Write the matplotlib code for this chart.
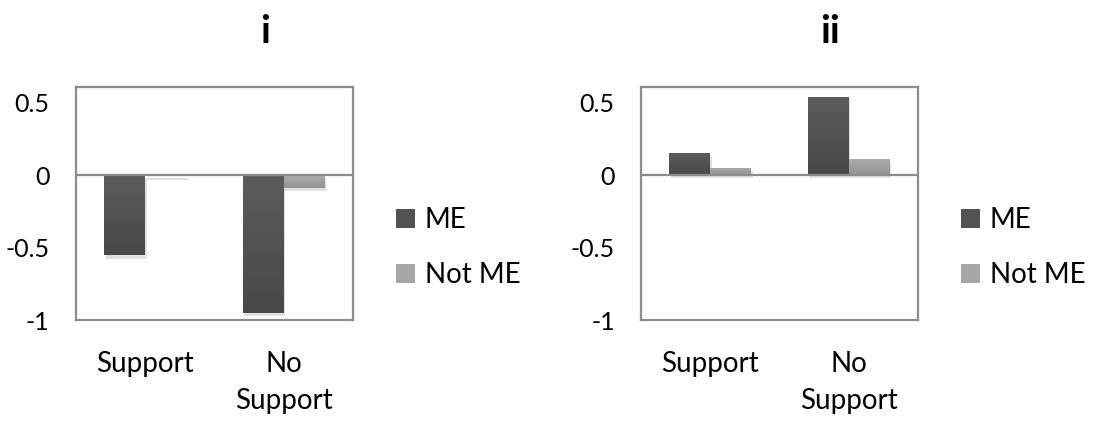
import matplotlib.pyplot as plt
import matplotlib.patheffects as pe
from matplotlib.patches import Patch
from matplotlib.colors import LinearSegmentedColormap
import numpy as np

plt.rcParams['font.family'] = ['Lato', 'DejaVu Sans']

categories = ["Support", "No\nSupport"]
series = ["ME", "Not ME"]
panel_i_me = [-0.555, -0.95]
panel_i_not_me = [-0.008, -0.088]
panel_ii_me = [0.155, 0.54]
panel_ii_not_me = [0.05, 0.11]
titles = ["i", "ii"]
yticks = [-1, -0.5, 0, 0.5]

colores = {"ME": "#525252", "Not ME": "#a6a6a6"}
degradado = {"ME": ("#484848", "#5c5c5c"), "Not ME": ("#939393", "#acacac")}
gris = "#8c8c8c"


def rellenar(ax, barras, serie):
    # degradado vertical, mas claro arriba
    cmap = LinearSegmentedColormap.from_list(serie, degradado[serie])
    grad = np.linspace(0, 1, 64).reshape(-1, 1)
    for b in barras:
        x0, y0 = b.get_x(), b.get_y()
        x1, y1 = x0 + b.get_width(), y0 + b.get_height()
        lo, hi = min(y0, y1), max(y0, y1)
        im = ax.imshow(grad, cmap=cmap, extent=[x0, x1, lo, hi], origin='lower',
                       aspect='auto', zorder=2.5, interpolation='bilinear')
        im.set_clip_path(b)


def panel(fig, rect, me, not_me, titulo, titulo_x):
    ax = fig.add_axes(rect)
    x = np.arange(len(categories))
    w = 0.296
    sombra = [pe.SimplePatchShadow(offset=(1, -2.5), shadow_rgbFace='#888888', alpha=0.25), pe.Normal()]
    b1 = ax.bar(x - w / 2, me, w, color=colores["ME"], zorder=2)
    b2 = ax.bar(x + w / 2, not_me, w, color=colores["Not ME"], zorder=2)
    for b in list(b1) + list(b2):
        b.set_path_effects(sombra)
    rellenar(ax, b1, "ME")
    rellenar(ax, b2, "Not ME")
    ax.axhline(0, color=gris, lw=1.6, zorder=3)
    ax.set_xlim(-0.5, 1.5)
    ax.set_ylim(-1, 0.607)
    ax.set_yticks(yticks)
    ax.set_yticklabels(["-1", "-0.5", "0", "0.5"])
    ax.set_xticks(x)
    ax.set_xticklabels(categories, linespacing=1.55, va='top')
    ax.tick_params(axis='y', length=0, pad=19, labelsize=18)
    ax.tick_params(axis='x', length=0, pad=22, labelsize=20)
    for s in ax.spines.values():
        s.set_color(gris)
        s.set_linewidth(1.6)
    handles = [Patch(facecolor=colores[s], edgecolor='none') for s in series]
    ax.legend(handles, series, loc='center left', bbox_to_anchor=(1.115, 0.31),
              frameon=False, fontsize=20, handlelength=0.7, handleheight=0.7,
              handletextpad=0.33, labelspacing=1.05, borderaxespad=0)
    fig.text(titulo_x, 0.925, titulo, ha='center', va='center', fontsize=28, fontweight='bold')
    return ax


fig = plt.figure(figsize=(10.93, 4.22), dpi=100)
panel(fig, [0.0695, 0.2417, 0.2534, 0.5521], panel_i_me, panel_i_not_me, titles[0], 265 / 1093)
panel(fig, [0.5865, 0.2417, 0.2534, 0.5521], panel_ii_me, panel_ii_not_me, titles[1], 830 / 1093)
fig.savefig("out.png", dpi=100)
